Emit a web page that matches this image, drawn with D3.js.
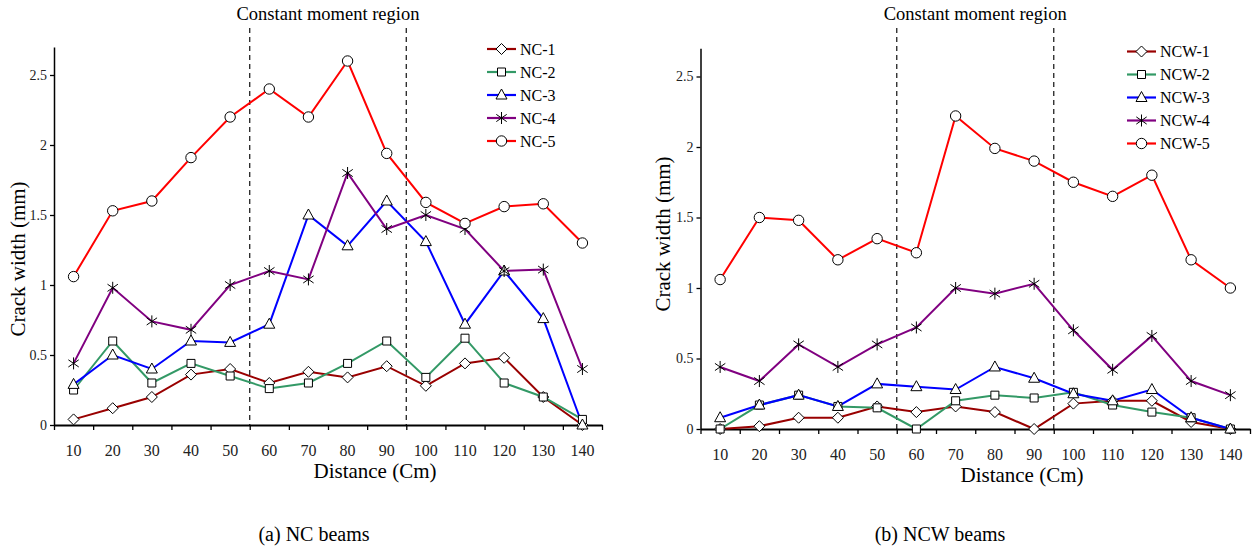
<!DOCTYPE html>
<html>
<head>
<meta charset="utf-8">
<script src="https://cdn.jsdelivr.net/npm/d3@7"></script>
<style>
  body { margin: 0; background: #fff; }
  svg text { font-family: "Liberation Serif", "Times New Roman", serif !important; }
</style>
</head>
<body>
<svg id="chart" width="1254" height="546"></svg>
<script>
// distances along the beam (cm)
const distances = [10, 20, 30, 40, 50, 60, 70, 80, 90, 100, 110, 120, 130, 140]
const yTicks = [0, 0.5, 1, 1.5, 2, 2.5]

// (a) NC beams - crack width (mm)
const nc1 = [0.04, 0.12, 0.2, 0.36, 0.4, 0.3, 0.38, 0.34, 0.42, 0.28, 0.44, 0.48, 0.2, 0]
const nc2 = [0.25, 0.6, 0.3, 0.44, 0.35, 0.26, 0.3, 0.44, 0.6, 0.34, 0.62, 0.3, 0.2, 0.04]
const nc3 = [0.29, 0.5, 0.4, 0.6, 0.59, 0.72, 1.5, 1.28, 1.6, 1.31, 0.72, 1.1, 0.76, 0]
const nc4 = [0.44, 0.98, 0.74, 0.68, 1.0, 1.1, 1.04, 1.8, 1.4, 1.5, 1.4, 1.1, 1.11, 0.4]
const nc5 = [1.06, 1.53, 1.6, 1.91, 2.2, 2.4, 2.2, 2.6, 1.94, 1.59, 1.44, 1.56, 1.58, 1.3]

// (b) NCW beams - crack width (mm)
const ncw1 = [0, 0.02, 0.08, 0.08, 0.16, 0.12, 0.16, 0.12, 0, 0.18, 0.2, 0.2, 0.05, 0]
const ncw2 = [0, 0.17, 0.24, 0.16, 0.15, 0, 0.2, 0.24, 0.22, 0.26, 0.17, 0.12, 0.08, 0]
const ncw3 = [0.08, 0.17, 0.24, 0.16, 0.32, 0.3, 0.28, 0.44, 0.36, 0.25, 0.2, 0.28, 0.08, 0]
const ncw4 = [0.44, 0.34, 0.6, 0.44, 0.6, 0.72, 1.0, 0.96, 1.03, 0.7, 0.42, 0.66, 0.34, 0.24]
const ncw5 = [1.06, 1.5, 1.48, 1.2, 1.35, 1.25, 2.22, 1.99, 1.9, 1.75, 1.65, 1.8, 1.2, 1.0]

const ncNames = ["NC-1", "NC-2", "NC-3", "NC-4", "NC-5"]
const ncwNames = ["NCW-1", "NCW-2", "NCW-3", "NCW-4", "NCW-5"]

const colors = ["#990000", "#339966", "#0000ff", "#800080", "#ff0000"]
const markers = ["diamond", "square", "triangle", "asterisk", "circle"]

const svg = d3.select("#chart")

// marker shapes, drawn around 0,0
const markerPath = (type) => {
    if (type === "diamond") return "M0,-5.5L5.5,0L0,5.5L-5.5,0Z"
    if (type === "square") return "M-4,-4H4V4H-4Z"
    if (type === "triangle") return "M0,-6L5.5,4L-5.5,4Z"
    if (type === "asterisk") return "M0,-6V6M-5.2,-3.6L5.2,3.6M-5.2,3.6L5.2,-3.6"
    return null
}

const drawMarker = (g, type) => {
    if (type === "circle") {
        g.append("circle").attr("r", 5.2).attr("fill", "#fff").attr("stroke", "#000").attr("stroke-width", 1)
    } else {
        g.append("path").attr("d", markerPath(type))
            .attr("fill", type === "asterisk" ? "none" : "#fff")
            .attr("stroke", "#000").attr("stroke-width", 1)
    }
}

const drawPanel = (cfg) => {
    const g = svg.append("g")

    const x = d3.scaleBand().domain(distances).range(cfg.xRange).padding(0)
    const xb = d3.scaleLinear().domain([0, distances.length]).range(cfg.xRange) // band boundaries
    const y = d3.scaleLinear().domain([0, 2.7]).range(cfg.yRange)

    // dashed lines for constant moment region
    ;[5, 9].forEach(i => {
        g.append("line")
            .attr("x1", xb(i)).attr("x2", xb(i))
            .attr("y1", 28).attr("y2", cfg.yRange[0])
            .attr("stroke", "#222").attr("stroke-width", 1.3)
            .attr("stroke-dasharray", "5,4")
    })

    g.append("text")
        .attr("x", (xb(5) + xb(9)) / 2).attr("y", 20)
        .attr("text-anchor", "middle").attr("font-size", 18.5)
        .text("Constant moment region")

    // y axis
    const yAxis = g.append("g")
        .attr("transform", `translate(${cfg.xRange[0]},0)`)
        .call(d3.axisLeft(y).tickValues(yTicks).tickSize(4).tickSizeOuter(0).tickFormat(d => d))
    yAxis.select(".domain").attr("stroke-width", 1.5)
    yAxis.selectAll(".tick line").attr("stroke-width", 1.3)
    yAxis.selectAll("text").attr("font-size", 14).attr("fill", "#222")

    // x axis: boundary ticks
    const xAxisTicks = g.append("g")
        .attr("transform", `translate(0,${cfg.yRange[0]})`)
        .call(d3.axisBottom(xb).tickValues(d3.range(0, distances.length + 1)).tickSize(5).tickSizeOuter(0).tickFormat(""))
    xAxisTicks.select(".domain").attr("stroke-width", 2)
    xAxisTicks.selectAll(".tick line").attr("stroke-width", 1.3)

    // x axis: labels at band centers
    const xAxisLabels = g.append("g")
        .attr("transform", `translate(0,${cfg.yRange[0]})`)
        .call(d3.axisBottom(x).tickSize(0).tickPadding(20))
    xAxisLabels.select(".domain").remove()
    xAxisLabels.selectAll("text").attr("font-size", 16).attr("fill", "#222")

    // axis titles
    g.append("text")
        .attr("x", cfg.xLabelX).attr("y", cfg.yRange[0] + 53)
        .attr("text-anchor", "middle").attr("font-size", 21)
        .text("Distance (Cm)")

    g.append("text")
        .attr("transform", `translate(${cfg.yLabelX},${cfg.yLabelY}) rotate(-90)`)
        .attr("text-anchor", "middle").attr("font-size", 21)
        .text("Crack width (mm)")

    // series lines
    const line = d3.line()
        .x((d, i) => x(distances[i]) + x.bandwidth() / 2)
        .y(d => y(d))

    cfg.series.forEach((s, k) => {
        g.append("path")
            .datum(s)
            .attr("fill", "none")
            .attr("stroke", colors[k])
            .attr("stroke-width", 2)
            .attr("d", line)
    })

    // markers on top
    cfg.series.forEach((s, k) => {
        g.append("g").selectAll("g")
            .data(s)
            .enter()
            .append("g")
            .attr("transform", (d, i) => `translate(${x(distances[i]) + x.bandwidth() / 2},${y(d)})`)
            .each(function () { drawMarker(d3.select(this), markers[k]) })
    })

    // legend
    const legend = g.append("g").attr("transform", `translate(${cfg.legendX},${cfg.legendY})`)
    cfg.names.forEach((name, k) => {
        const row = legend.append("g").attr("transform", `translate(0,${k * 23})`)
        row.append("line")
            .attr("x1", 0).attr("x2", 29)
            .attr("stroke", colors[k]).attr("stroke-width", 2.2)
        const m = row.append("g").attr("transform", "translate(14.5,0)")
        drawMarker(m, markers[k])
        row.append("text")
            .attr("x", 33).attr("y", 5.5)
            .attr("font-size", 16)
            .text(name)
    })

    // caption
    g.append("text")
        .attr("x", cfg.captionX).attr("y", 541)
        .attr("text-anchor", "middle").attr("font-size", 20)
        .text(cfg.caption)
}

drawPanel({
    xRange: [54, 602],
    yRange: [425, 425 - 2.7 * 140],
    series: [nc1, nc2, nc3, nc4, nc5],
    names: ncNames,
    legendX: 487, legendY: 49,
    xLabelX: 375, yLabelX: 25, yLabelY: 259,
    captionX: 314, caption: "(a) NC beams"
})

drawPanel({
    xRange: [700.5, 1250],
    yRange: [429, 429 - 2.7 * 141],
    series: [ncw1, ncw2, ncw3, ncw4, ncw5],
    names: ncwNames,
    legendX: 1127, legendY: 51.5,
    xLabelX: 1022, yLabelX: 670, yLabelY: 234,
    captionX: 940, caption: "(b) NCW beams"
})
</script>
</body>
</html>
